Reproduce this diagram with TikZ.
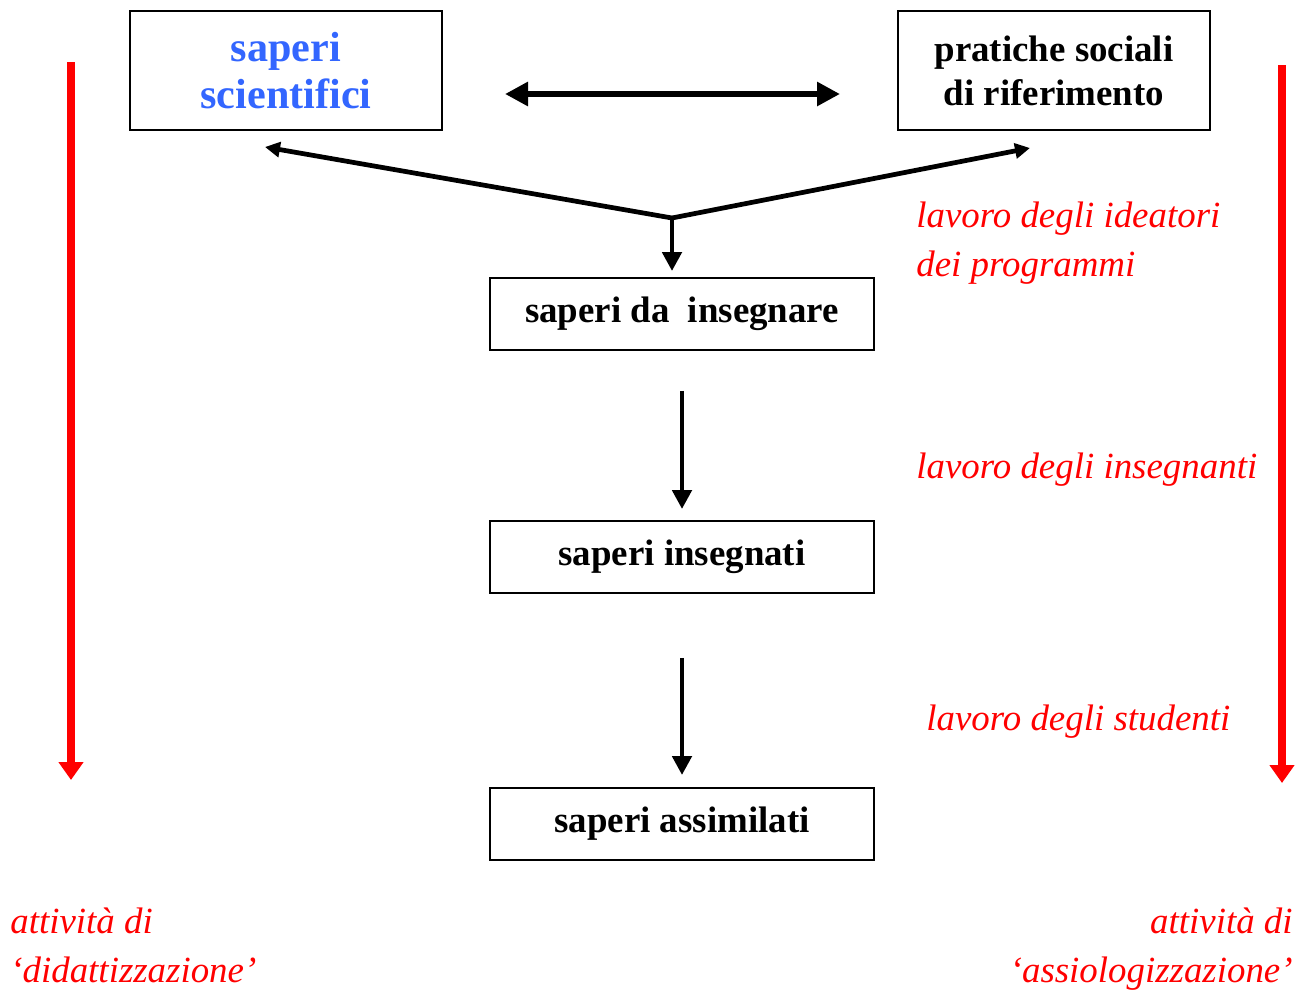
\documentclass[tikz,border=0pt]{standalone}
\usepackage{fontspec}
\setmainfont{Liberation Serif}
\usetikzlibrary{arrows.meta}
\definecolor{sciblue}{RGB}{51,102,255}
\definecolor{workred}{RGB}{255,0,0}
\begin{document}
\begin{tikzpicture}[x=0.02cm,y=-0.02cm,
    box/.style={draw,line width=1.1pt,rectangle,inner sep=0,align=center,font=\bfseries\fontsize{21}{25}\selectfont},
    topbox/.style={box,minimum width=6.24cm,minimum height=2.38cm},
    midbox/.style={box,minimum width=7.68cm,minimum height=1.44cm},
    note/.style={text=workred,inner sep=0,font=\itshape\fontsize{21}{27.5}\selectfont},
    link/.style={line width=2.7pt,-{Triangle[width=0.38cm,length=0.38cm]}},
    vee/.style={line width=2.7pt,-{Triangle[width=0.3cm,length=0.3cm]}},
    pair/.style={line width=3.4pt,{Triangle[width=0.46cm,length=0.46cm]}-{Triangle[width=0.46cm,length=0.46cm]}},
    flow/.style={workred,line width=4.5pt,-{Triangle[width=0.48cm,length=0.36cm]}}]
    \useasboundingbox (0,0) rectangle (1309,994);
    \path (286,70.5) node [topbox,text=sciblue,font=\bfseries\fontsize{24}{27}\selectfont](sci){saperi\\scientifici};
    \path (1054,70.5) node [topbox](prat){pratiche sociali\\di riferimento};
    \path (682,314) node [midbox](dains){saperi da~ insegnare};
    \path (682,557) node [midbox](ins){saperi insegnati};
    \path (682,824) node [midbox](ass){saperi assimilati};
    \coordinate (vtx) at (672,218);
    \coordinate (vl) at (265,147);
    \coordinate (vr) at (1030,148);
    \coordinate (dl) at (505,94);
    \coordinate (dr) at (840,94);
    \coordinate (rl0) at (71,62);
    \coordinate (rl1) at (71,780);
    \coordinate (rr0) at (1282,65);
    \coordinate (rr1) at (1282,783);
    \draw[pair] (dl) -- (dr);
    \draw[vee] (vtx) -- (vl);
    \draw[vee] (vtx) -- (vr);
    \draw[link,shorten >=0.12cm] (vtx) -- (vtx |- dains.north);
    \draw[link,shorten <=0.8cm,shorten >=0.22cm] (dains) -- (ins);
    \draw[link,shorten <=1.28cm,shorten >=0.24cm] (ins) -- (ass);
    \draw[flow] (rl0) -- (rl1);
    \draw[flow] (rr0) -- (rr1);
    \path (916,276) node [note,anchor=base west,align=left](ideat){lavoro degli ideatori\\dei programmi};
    \path (916,478) node [note,anchor=base west](insg){lavoro degli insegnanti};
    \path (926,730) node [note,anchor=base west](stud){lavoro degli studenti};
    \path (10,982) node [note,anchor=base west,align=left](didat){attività di\\‘didattizzazione’};
    \path (1293,982) node [note,anchor=base east,align=right](assio){attività di\\‘assiologizzazione’};
  \end{tikzpicture}
\end{document}
